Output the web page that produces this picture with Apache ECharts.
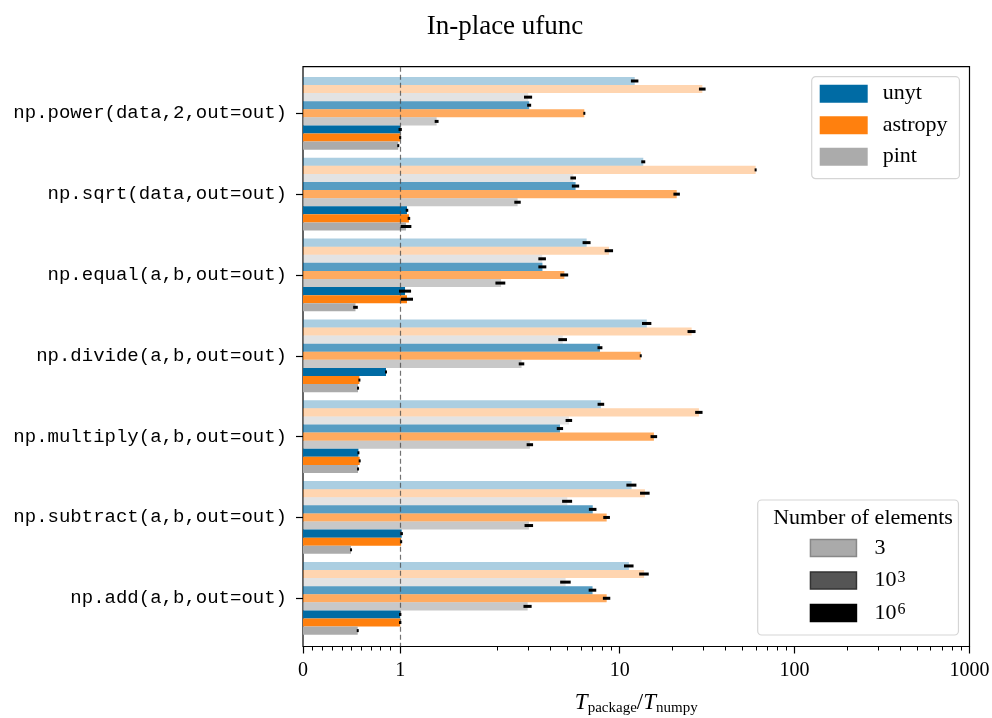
<!DOCTYPE html>
<html><head><meta charset="utf-8">
<script src="https://cdn.jsdelivr.net/npm/echarts@6/dist/echarts.min.js"></script>
<style>html,body{margin:0;padding:0;background:#fff}#c{width:992px;height:718px}</style>
</head><body><div id="c"></div>
<script>
// ---- data ----
const categories = [
  'np.power(data,2,out=out)',
  'np.sqrt(data,out=out)',
  'np.equal(a,b,out=out)',
  'np.divide(a,b,out=out)',
  'np.multiply(a,b,out=out)',
  'np.subtract(a,b,out=out)',
  'np.add(a,b,out=out)'
];
const packages = ['unyt', 'astropy', 'pint'];
const sizes = ['3', '10^3', '10^6'];

const unyt_3      = [12.2, 13.65, 6.48, 14.3, 7.82, 11.7, 11.3];
const astropy_3   = [29.7, 59.9, 8.69, 25.8, 28.4, 13.96, 13.8];
const pint_3      = [3.0, 5.43, 3.61, 4.73, 5.13, 5.02, 4.91];
const unyt_1e3    = [3.04, 5.6, 3.62, 7.72, 4.56, 7.02, 7.0];
const astropy_1e3 = [6.28, 21.2, 4.83, 13.2, 15.7, 8.43, 8.43];
const pint_1e3    = [1.375, 2.61, 2.1, 2.75, 3.07, 3.03, 2.98];
const unyt_1e6    = [1.0, 1.07, 1.05, 0.854, 0.57, 1.015, 1.0];
const astropy_1e6 = [1.0, 1.09, 1.07, 0.58, 0.583, 1.01, 1.0];
const pint_1e6    = [0.98, 1.06, 0.54, 0.566, 0.566, 0.494, 0.563];

const unyt_3_err      = [0.6, 0.36, 0.34, 0.88, 0.34, 0.77, 0.71];
const astropy_3_err   = [1.3, 0.8, 0.48, 1.36, 1.38, 0.88, 0.87];
const pint_3_err      = [0.16, 0.2, 0.18, 0.27, 0.22, 0.33, 0.34];
const unyt_1e3_err    = [0.08, 0.27, 0.19, 0.25, 0.19, 0.35, 0.35];
const astropy_1e3_err = [0.08, 0.9, 0.25, 0.17, 0.68, 0.37, 0.41];
const pint_1e3_err    = [0.02, 0.11, 0.12, 0.1, 0.13, 0.17, 0.16];
const unyt_1e6_err    = [0.017, 0.013, 0.062, 0.01, 0.01, 0.013, 0.012];
const astropy_1e6_err = [0.01, 0.013, 0.062, 0.01, 0.01, 0.01, 0.012];
const pint_1e6_err    = [0.01, 0.055, 0.024, 0.01, 0.01, 0.01, 0.01];

const xMajorTicks = [0, 1, 10, 100, 1000];
const xMajorLabels = ['0', '1', '10', '100', '1000'];
const xMinorTicks = [0.1, 0.2, 0.3, 0.4, 0.5, 0.6, 0.7, 0.8, 0.9,
  2, 3, 4, 5, 6, 7, 8, 9, 20, 30, 40, 50, 60, 70, 80, 90,
  200, 300, 400, 500, 600, 700, 800, 900];
const refValue = 1;

// ---- symmetric-log scale (linthresh 2, linscale 1, base 10) ----
const LINTHRESH = 2, LINSCALE_ADJ = 1 / (1 - 1 / 10);
function symlog(v) {
  const a = Math.abs(v);
  if (a <= LINTHRESH) return v * LINSCALE_ADJ;
  return Math.sign(v) * LINTHRESH * (LINSCALE_ADJ + Math.log10(a / LINTHRESH));
}
const XMAX = symlog(1000);

const values = {
  unyt: {'3': unyt_3, '10^3': unyt_1e3, '10^6': unyt_1e6},
  astropy: {'3': astropy_3, '10^3': astropy_1e3, '10^6': astropy_1e6},
  pint: {'3': pint_3, '10^3': pint_1e3, '10^6': pint_1e6}
};
const errors = {
  unyt: {'3': unyt_3_err, '10^3': unyt_1e3_err, '10^6': unyt_1e6_err},
  astropy: {'3': astropy_3_err, '10^3': astropy_1e3_err, '10^6': astropy_1e6_err},
  pint: {'3': pint_3_err, '10^3': pint_1e3_err, '10^6': pint_1e6_err}
};
const pkgColor = {unyt: '#006BA4', astropy: '#FF800E', pint: '#ABABAB'};
const sizeOpacity = {'3': 0.33, '10^3': 0.66, '10^6': 1};
const sizeSwatch = {
  '3': {color: '#AAAAAA', borderColor: '#888888'},
  '10^3': {color: '#555555', borderColor: '#333333'},
  '10^6': {color: '#000000', borderColor: '#000000'}
};

const SERIF = 'Liberation Serif, Times New Roman, serif';
const MONO = 'Liberation Mono, DejaVu Sans Mono, monospace';

const series = [];
const errData = [];
let j = 0;
sizes.forEach(s => {
  packages.forEach(p => {
    series.push({
      name: p + ' ' + s,
      type: 'bar',
      xAxisIndex: 2, yAxisIndex: 1,
      barWidth: '10%', barGap: '0%',
      itemStyle: {color: pkgColor[p], opacity: sizeOpacity[s]},
      emphasis: {disabled: true},
      data: values[p][s].map(symlog)
    });
    values[p][s].forEach((v, i) => {
      const e = errors[p][s][i];
      errData.push([i, j, symlog(v - e), symlog(v + e)]);
    });
    j++;
  });
});
const NBARS = j;

series.push({
  name: 'errors',
  type: 'custom',
  xAxisIndex: 2, yAxisIndex: 1,
  z: 5,
  encode: {x: [2, 3], y: 0},
  renderItem: function (params, api) {
    const cat = api.value(0), k = api.value(1);
    const lo = api.coord([api.value(2), cat]);
    const hi = api.coord([api.value(3), cat]);
    const band = api.size([0, 1])[1];
    const bw = band * 0.1;
    const yc = lo[1] + (k - (NBARS - 1) / 2) * bw;
    const w = Math.max(hi[0] - lo[0], 2);
    return {type: 'rect', shape: {x: lo[0], y: yc - 1.5, width: w, height: 3}, style: {fill: '#000'}};
  },
  data: errData
});

// legend-only series on the frame grid
packages.forEach((p, idx) => {
  const sObj = {name: p, type: 'bar', xAxisIndex: 0, yAxisIndex: 0, itemStyle: {color: pkgColor[p]}, data: []};
  if (idx === 0) {
    sObj.z = 10;
    sObj.markLine = {
      silent: true, symbol: 'none', animation: false,
      label: {show: false},
      lineStyle: {type: [5, 3], color: '#444', width: 1.2, opacity: 0.75},
      data: [{xAxis: symlog(refValue)}]
    };
  }
  series.push(sObj);
});
sizes.forEach(s => {
  series.push({name: s, type: 'bar', xAxisIndex: 0, yAxisIndex: 0,
    itemStyle: {color: sizeSwatch[s].color, borderColor: sizeSwatch[s].borderColor, borderWidth: 1.5}, data: []});
});

function nearestLabel(v) {
  let best = 0, bd = Infinity;
  xMajorTicks.forEach((t, i) => { const d = Math.abs(symlog(t) - v); if (d < bd) { bd = d; best = i; } });
  return xMajorLabels[best];
}

const chart = echarts.init(document.getElementById('c'), null, {renderer: 'canvas'});
chart.setOption({
  animation: false,
  backgroundColor: '#fff',
  title: [
    {text: 'In-place ufunc', left: 500, top: 8, textAlign: 'center',
      textStyle: {fontFamily: SERIF, fontSize: 27, fontWeight: 'normal', color: '#000'}},
    {text: 'Number of elements', left: 858, top: 502, textAlign: 'center',
      textStyle: {fontFamily: SERIF, fontSize: 22, fontWeight: 'normal', color: '#000'}}
  ],
  grid: [
    {left: 303, right: 22.5, top: 66.7, bottom: 71.5, show: true, borderColor: '#000', borderWidth: 1.2,
      backgroundColor: 'transparent', containLabel: false, outerBoundsMode: 'none'},
    {left: 303, right: 22.5, top: 72.9, bottom: 79.3, containLabel: false, outerBoundsMode: 'none'}
  ],
  legend: [
    {
      data: packages, orient: 'vertical', left: 811.7, top: 76.7,
      padding: [6, 12, 11, 8], itemWidth: 48, itemHeight: 18, itemGap: 9.5,
      backgroundColor: 'rgba(255,255,255,0.85)', borderColor: '#d5d5d5', borderWidth: 1.2, borderRadius: 4,
      icon: 'rect', selectedMode: false,
      textStyle: {fontFamily: SERIF, fontSize: 22, color: '#000', padding: [0, 0, 0, 10]}
    },
    {
      data: sizes.map(s => ({name: s, itemStyle: {color: sizeSwatch[s].color, borderColor: sizeSwatch[s].borderColor, borderWidth: 1.5}})),
      orient: 'vertical', left: 757.7, top: 500,
      padding: [37, 53, 11, 52], itemWidth: 46, itemHeight: 17, itemGap: 10.5,
      backgroundColor: 'rgba(255,255,255,0.85)', borderColor: '#d5d5d5', borderWidth: 1.2, borderRadius: 4,
      icon: 'rect', selectedMode: false,
      formatter: function (name) {
        const m = name.split('^');
        return m.length === 2 ? m[0] + '{sup|' + m[1] + '}' : name;
      },
      textStyle: {fontFamily: SERIF, fontSize: 22, color: '#000', padding: [0, 0, 0, 13],
        rich: {sup: {fontFamily: SERIF, fontSize: 16, color: '#000', lineHeight: 6, verticalAlign: 'top', padding: [0, 0, 0, 1]}}}
    }
  ],
  xAxis: [
    {
      gridIndex: 0, type: 'value', min: 0, max: XMAX, position: 'bottom',
      axisLine: {show: false}, splitLine: {show: false},
      axisTick: {show: true, length: 7, customValues: xMajorTicks.map(symlog), lineStyle: {color: '#000', width: 1.2}},
      axisLabel: {show: true, customValues: xMajorTicks.map(symlog), margin: 14,
        formatter: v => nearestLabel(v), fontFamily: SERIF, fontSize: 20, color: '#000'},
      name: '{i|T}{s|package}{n|/}{i|T}{s|numpy}',
      nameLocation: 'middle', nameGap: 44,
      nameTextStyle: {
        rich: {
          i: {fontFamily: SERIF, fontStyle: 'italic', fontSize: 23, color: '#000'},
          n: {fontFamily: SERIF, fontSize: 23, color: '#000'},
          s: {fontFamily: SERIF, fontSize: 15, color: '#000', padding: [10, 0, 0, 0]}
        }
      }
    },
    {
      gridIndex: 0, type: 'value', min: 0, max: XMAX, position: 'bottom',
      axisLine: {show: false}, splitLine: {show: false},
      axisTick: {show: true, length: 4, customValues: xMinorTicks.map(symlog), lineStyle: {color: '#000', width: 1}},
      axisLabel: {show: false}
    },
    {gridIndex: 1, type: 'value', min: 0, max: XMAX, show: false}
  ],
  yAxis: [
    {gridIndex: 0, type: 'category', data: categories, inverse: true, show: false},
    {
      gridIndex: 1, type: 'category', data: categories, inverse: true,
      axisLine: {show: false},
      axisTick: {show: true, alignWithLabel: true, length: 7, lineStyle: {color: '#000', width: 1.2}},
      axisLabel: {fontFamily: MONO, fontSize: 19, color: '#000', margin: 16}
    }
  ],
  series: series
});
</script></body></html>
